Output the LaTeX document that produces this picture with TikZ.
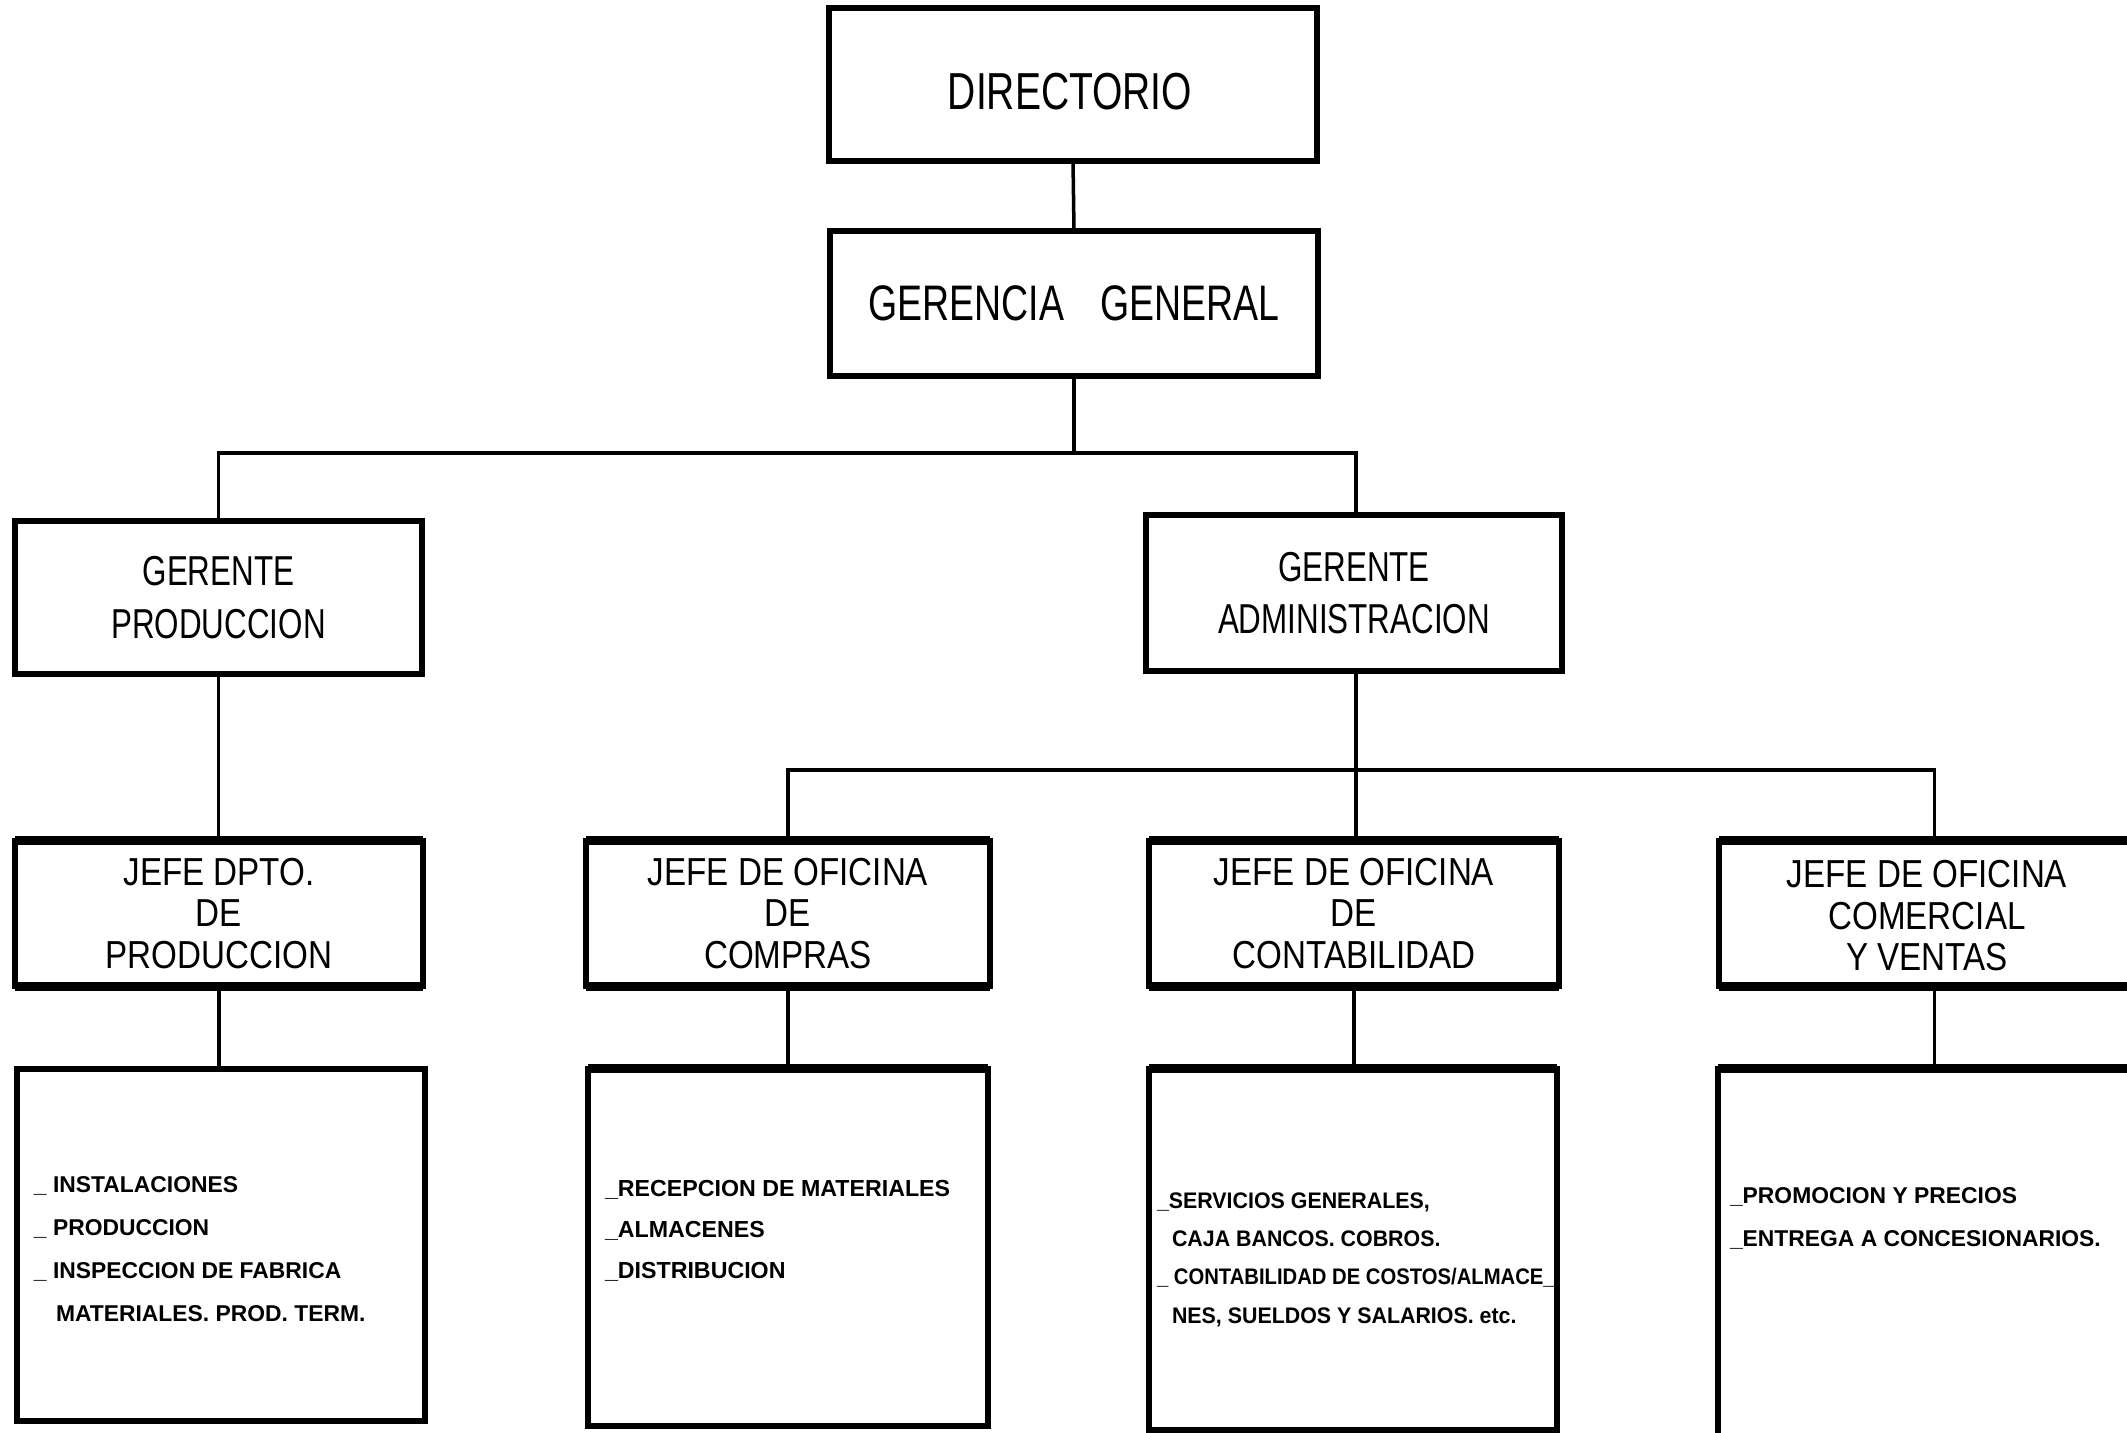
\documentclass[tikz,border=0pt]{standalone}
\usepackage{fontspec}
\setmainfont{Liberation Sans}
\newfontfamily\fA[FakeStretch=0.75]{Liberation Sans}
\newfontfamily\fC[FakeStretch=0.85]{Liberation Sans}
\newfontfamily\fD{Liberation Sans}
\newfontfamily\fE[FakeStretch=0.9,BoldFont={Liberation Sans Bold}]{Liberation Sans}
\newfontfamily\fF[FakeStretch=0.95,BoldFont={Liberation Sans Bold}]{Liberation Sans}
\begin{document}
\begin{tikzpicture}[x=0.01cm,y=-0.01cm]
\tikzset{
  box/.style={draw, line width=0.06cm, inner sep=0pt, outer sep=0pt, align=center},
  conn/.style={line width=0.035cm},
  heavyedge/.style={line width=0.09cm},
  ftop/.style={font=\fA\fontsize{14.8pt}{18pt}\selectfont},
  fgg/.style={font=\fA\fontsize{14.2pt}{18pt}\selectfont},
  flvtwo/.style={font=\fA\fontsize{11.9pt}{15pt}\selectfont},
  flvthree/.style={font=\fC\fontsize{11.1pt}{11.8pt}\selectfont},
  flist/.style={inner sep=0pt, outer sep=0pt, anchor=west, align=left},
}
\useasboundingbox (0,0) rectangle (2127,1432);
\fill[white] (0,0) rectangle (2127,1432);

% level 0 and 1
\node[box, minimum width=4.88cm, minimum height=1.53cm] (dir) at (1073,84.5) {};
\node[ftop, inner sep=0pt] (dirtxt) at (1070,92) {DIRECTORIO};
\node[box, fgg, minimum width=4.88cm, minimum height=1.45cm] (gg) at (1074,303.5) {GERENCIA\hspace{0.36cm}GENERAL};

% level 2
\node[box, flvtwo, minimum width=4.07cm, minimum height=1.53cm] (gp) at (218.5,597.5) {GERENTE\\PRODUCCION};
\node[box, flvtwo, minimum width=4.15cm, minimum height=1.56cm] (ga) at (1354,593) {GERENTE\\ADMINISTRACION};

% level 3
\node[box, flvthree, minimum width=4.07cm, minimum height=1.45cm] (j1) at (219,913.5) {JEFE DPTO.\\DE\\PRODUCCION};
\node[box, flvthree, minimum width=4.03cm, minimum height=1.45cm] (j2) at (788,913.5) {JEFE DE OFICINA\\DE\\COMPRAS};
\node[box, flvthree, minimum width=4.09cm, minimum height=1.45cm] (j3) at (1354,913.5) {JEFE DE OFICINA\\DE\\CONTABILIDAD};
\node[box, minimum width=4.31cm, minimum height=1.45cm] (j4) at (1934.5,913.5) {};
\node[flvthree, align=center, inner sep=0pt] (j4txt) at (1927,916) {JEFE DE OFICINA\\COMERCIAL\\Y VENTAS};

% level 4
\node[box, minimum width=4.08cm, minimum height=3.52cm] (t1) at (221,1245) {};
\node[box, minimum width=4.00cm, minimum height=3.57cm] (t2) at (788,1247.5) {};
\node[box, minimum width=4.07cm, minimum height=3.61cm] (t3) at (1353,1249.5) {};
\node[box, minimum width=4.33cm, minimum height=3.76cm] (t4) at (1934.5,1257) {};

% heavier horizontal edges
\foreach \b in {j1,j2,j3,j4}{
  \draw[heavyedge] (\b.north west) -- (\b.north east);
  \draw[heavyedge] (\b.south west) -- (\b.south east);
}
\foreach \b in {t2,t3,t4}{
  \draw[heavyedge] (\b.north west) -- (\b.north east);
}

% list texts
\node[flist, font=\fD\bfseries\fontsize{6.5pt}{12.3pt}\selectfont] (t1txt) at (34,1249)
  {\_ INSTALACIONES\\\_ PRODUCCION\\\_ INSPECCION DE FABRICA\\\hspace*{0.22cm}MATERIALES. PROD. TERM.};
\node[flist, font=\fD\bfseries\fontsize{6.6pt}{11.6pt}\selectfont] (t2txt) at (605,1231)
  {\_RECEPCION DE MATERIALES\\\_ALMACENES\\\_DISTRIBUCION};
\node[flist, font=\fF\bfseries\fontsize{6.4pt}{10.9pt}\selectfont] (t3txt) at (1157,1259.5)
  {\_SERVICIOS GENERALES,\\\hspace*{0.15cm}CAJA BANCOS. COBROS.\\{\fE\bfseries\_ CONTABILIDAD DE COSTOS/ALMACE\_}\\\hspace*{0.15cm}NES, SUELDOS Y SALARIOS. etc.};
\node[flist, font=\fD\bfseries\fontsize{6.5pt}{12.2pt}\selectfont] (t4txt) at (1730,1218.5)
  {\_PROMOCION Y PRECIOS\\\_ENTREGA A CONCESIONARIOS.};

% connectors
\draw[conn] (dir.south) -- (gg.north);
\coordinate (h1) at (1074,453);
\coordinate (h2) at (1356,770);
\draw[conn] (gg.south) -- (h1);
\draw[conn] (gp.north) |- (h1) -| (h2 |- ga.north);
\draw[conn] (gp.south) -- (gp.south |- j1.north);
\draw[conn] (ga.south -| h2) -- (h2);
\draw[conn] (j2.north) |- (h2) -| (j4.north);
\draw[conn] (h2) -- (h2 |- j3.north);
\draw[conn] (j1.south) -- (j1.south |- t1.north);
\draw[conn] (j2.south) -- (j2.south |- t2.north);
\draw[conn] (j3.south) -- (j3.south |- t3.north);
\draw[conn] (j4.south) -- (j4.south |- t4.north);
\end{tikzpicture}
\end{document}
